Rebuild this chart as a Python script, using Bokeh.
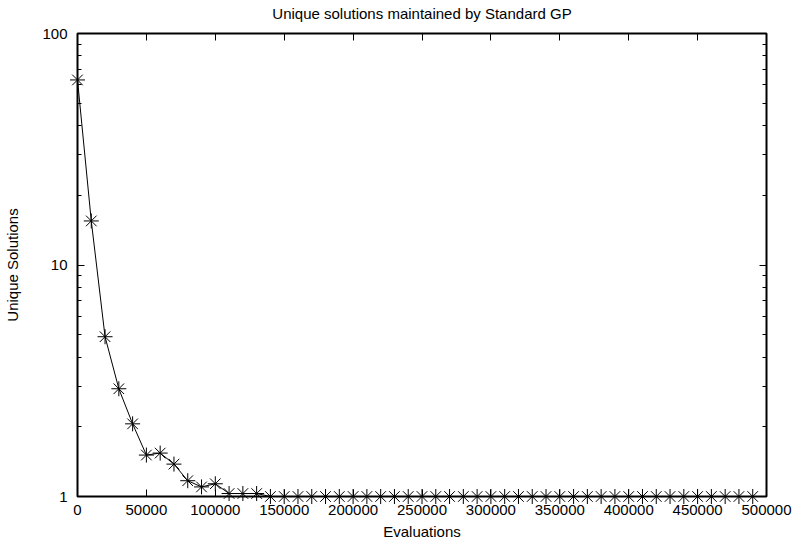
from bokeh.plotting import figure
from bokeh.models import (FixedTicker, NumeralTickFormatter, LinearAxis, LogAxis, Range1d,
                          CustomLabelingPolicy)
from bokeh.embed import file_html
from bokeh.resources import INLINE

# ---- data ----
evaluations = [
    0, 10000, 20000, 30000, 40000, 50000, 60000, 70000, 80000, 90000,
    100000, 110000, 120000, 130000, 140000, 150000, 160000, 170000, 180000, 190000,
    200000, 210000, 220000, 230000, 240000, 250000, 260000, 270000, 280000, 290000,
    300000, 310000, 320000, 330000, 340000, 350000, 360000, 370000, 380000, 390000,
    400000, 410000, 420000, 430000, 440000, 450000, 460000, 470000, 480000, 490000,
]
unique_solutions = [
    63.0, 15.5, 4.9, 2.92, 2.06, 1.51, 1.54, 1.38, 1.17, 1.10,
    1.135, 1.03, 1.03, 1.03, 1.0, 1.0, 1.0, 1.0, 1.0, 1.0,
    1.0, 1.0, 1.0, 1.0, 1.0, 1.0, 1.0, 1.0, 1.0, 1.0,
    1.0, 1.0, 1.0, 1.0, 1.0, 1.0, 1.0, 1.0, 1.0, 1.0,
    1.0, 1.0, 1.0, 1.0, 1.0, 1.0, 1.0, 1.0, 1.0, 1.0,
]
x_ticks = [0, 50000, 100000, 150000, 200000, 250000, 300000, 350000, 400000, 450000, 500000]
y_ticks = [1, 10, 100]
y_minor_ticks = [2, 3, 4, 5, 6, 7, 8, 9, 20, 30, 40, 50, 60, 70, 80, 90]

title_text = "Unique solutions maintained by Standard GP"
x_label = "Evaluations"
y_label = "Unique Solutions"

FONT = "Liberation Sans"

p = figure(
    width=795, height=544,
    y_axis_type="log",
    x_range=Range1d(0, 500000), y_range=Range1d(1, 100),
    output_backend="svg", toolbar_location=None,
    min_border_left=77, min_border_right=29, min_border_top=33, min_border_bottom=48,
    background_fill_color="white", border_fill_color="white",
)
p.title = None
p.grid.visible = False
p.outline_line_color = "black"
p.outline_line_width = 2

bottom_axis = p.below[0]
left_axis = p.left[0]
top_axis = LinearAxis()
right_axis = LogAxis()
p.add_layout(top_axis, "above")
p.add_layout(right_axis, "right")

for ax in [bottom_axis, top_axis]:
    ax.ticker = FixedTicker(ticks=x_ticks, minor_ticks=[])
    ax.formatter = NumeralTickFormatter(format="0")
for ax in [left_axis, right_axis]:
    ax.ticker = FixedTicker(ticks=y_ticks, minor_ticks=y_minor_ticks)
    ax.formatter = NumeralTickFormatter(format="0")

for ax in [bottom_axis, left_axis, top_axis, right_axis]:
    ax.axis_line_color = None
    ax.major_tick_in = 7
    ax.major_tick_out = 0
    ax.minor_tick_in = 4
    ax.minor_tick_out = 0
    ax.major_tick_line_color = "black"
    ax.minor_tick_line_color = "black"
    ax.major_tick_line_width = 1
    ax.minor_tick_line_width = 1
    ax.major_label_text_font = FONT
    ax.major_label_text_font_size = "15px"
    ax.major_label_text_color = "black"
    ax.axis_label_text_font = FONT
    ax.axis_label_text_font_size = "15px"
    ax.axis_label_text_font_style = "normal"
    ax.axis_label_text_color = "black"

for ax in [top_axis, right_axis]:
    ax.major_label_policy = CustomLabelingPolicy(code="return")
    ax.major_label_text_font_size = "1px"
    ax.major_label_standoff = 0

# the chart title sits above the top frame edge
top_axis.axis_label = title_text
top_axis.axis_label_standoff = 8

bottom_axis.axis_label = x_label
bottom_axis.major_label_standoff = 8
bottom_axis.axis_label_standoff = 5
left_axis.axis_label = y_label
left_axis.major_label_standoff = 10
left_axis.axis_label_standoff = 18

p.line(evaluations, unique_solutions, line_color="black", line_width=1)
p.scatter(evaluations, unique_solutions, marker="cross", size=15,
          line_color="black", line_width=1, level="overlay")
p.scatter(evaluations, unique_solutions, marker="x", size=15,
          line_color="black", line_width=1, level="overlay")

open("out.html", "w").write(file_html(p, INLINE))
